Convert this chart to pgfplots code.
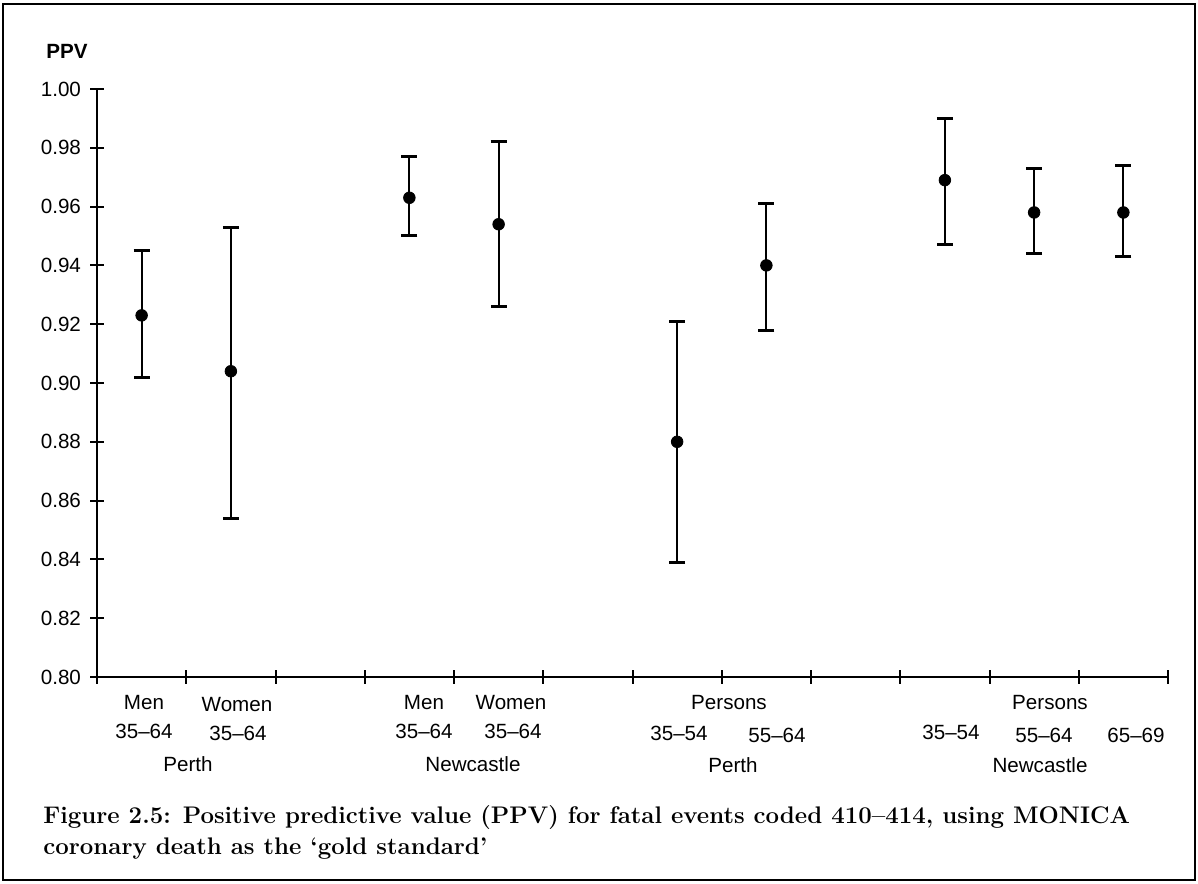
\documentclass[border=0pt]{standalone}
\usepackage{fontspec}
\setsansfont{Liberation Sans}
\usepackage{pgfplots}
\usepackage{pgfplotstable}
\pgfplotsset{compat=1.18}

% x: slot centre, y: PPV, ep/em: distance to upper/lower limit
\pgfplotstableread{
x    y     ep    em
0.5  0.923 0.022 0.021
1.5  0.904 0.049 0.050
3.5  0.963 0.014 0.013
4.5  0.954 0.028 0.028
6.5  0.880 0.041 0.041
7.5  0.940 0.021 0.022
9.5  0.969 0.021 0.022
10.5 0.958 0.015 0.014
11.5 0.958 0.016 0.015
}\ppvdata

\newcommand{\lab}{\sffamily\fontsize{10.3}{12}\selectfont}

\begin{document}
\begin{tikzpicture}
\begin{scope}[x=0.5pt,y=0.5pt]
  \path (0,0) rectangle (1198,883);
  \draw[line width=1pt] (3,3) rectangle (1195,879);
\end{scope}

\begin{axis}[
    at={(48.5pt,103pt)}, anchor=south west,
    scale only axis,
    width=535.5pt, height=294pt,
    xmin=0, xmax=12,
    ymin=0.8, ymax=1.0,
    axis x line*=bottom,
    axis y line*=left,
    axis line style={line width=1pt},
    every tick/.style={black, line width=1pt},
    tick align=center,
    major tick length=7pt,
    xtick={0,1,...,12},
    xticklabels={},
    ytick={0.80,0.82,0.84,0.86,0.88,0.90,0.92,0.94,0.96,0.98,1.00},
    yticklabel style={xshift=-1pt,
        /pgf/number format/.cd, fixed, fixed zerofill, precision=2,
        /pgf/number format/assume math mode=true},
    ticklabel style={font=\lab},
    clip=false,
]
\addplot[
    only marks, mark=*, mark size=2.9pt, black,
    error bars/.cd,
        y dir=both, y explicit,
        error bar style={line width=1pt},
        error mark options={rotate=90, mark size=4pt, line width=1.5pt},
] table[x=x, y=y, y error plus=ep, y error minus=em] {\ppvdata};
\end{axis}

\begin{scope}[x=0.5pt,y=0.5pt]
  \node[font=\lab\bfseries] at (67,832) {PPV};
  % group labels under the axis
  \node[font=\lab] at (144,180) {Men};
  \node[font=\lab] at (144,152) {35–64};
  \node[font=\lab] at (237,178) {Women};
  \node[font=\lab] at (238,150) {35–64};
  \node[font=\lab] at (188,119) {Perth};
  \node[font=\lab] at (424,180) {Men};
  \node[font=\lab] at (424,152) {35–64};
  \node[font=\lab] at (511,180) {Women};
  \node[font=\lab] at (513,152) {35–64};
  \node[font=\lab] at (473,119) {Newcastle};
  \node[font=\lab] at (729,180) {Persons};
  \node[font=\lab] at (679,150) {35–54};
  \node[font=\lab] at (777,148) {55–64};
  \node[font=\lab] at (733,118) {Perth};
  \node[font=\lab] at (1050,180) {Persons};
  \node[font=\lab] at (951,151) {35–54};
  \node[font=\lab] at (1044,148) {55–64};
  \node[font=\lab] at (1136,148) {65–69};
  \node[font=\lab] at (1040,118) {Newcastle};
  % caption
  \node[anchor=base west, inner sep=0pt, font=\rmfamily\bfseries\fontsize{12}{14}\selectfont]
    at (43,60) {Figure 2.5: Positive predictive value (PPV) for fatal events coded 410–414, using MONICA};
  \node[anchor=base west, inner sep=0pt, font=\rmfamily\bfseries\fontsize{12}{14}\selectfont]
    at (43,29) {coronary death as the ‘gold standard’};
\end{scope}
\end{tikzpicture}
\end{document}
